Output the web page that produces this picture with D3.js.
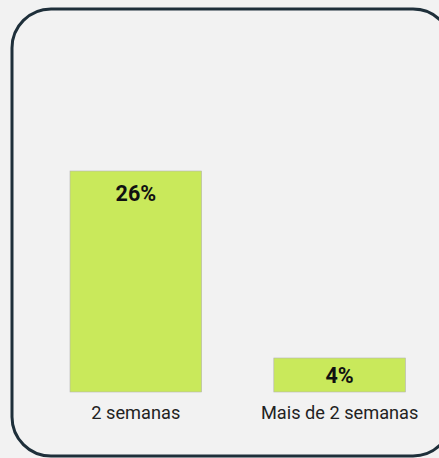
<!DOCTYPE html>
<html>
<head>
<meta charset="utf-8">
<script src="https://cdn.jsdelivr.net/npm/d3@7"></script>
<style>
  html, body { margin: 0; padding: 0; background: #f2f2f2; }
  svg { display: block; font-family: Roboto, sans-serif; }
</style>
</head>
<body>
<div id="chart"></div>
<script>
const categories = ['2 semanas', 'Mais de 2 semanas'];
const values = [26, 4];

const width = 439;
const height = 458;

const svg = d3.select('#chart')
    .append('svg')
    .attr('width', width)
    .attr('height', height);

// card frame
svg.append('rect')
    .attr('x', 12)
    .attr('y', 9)
    .attr('width', 440)
    .attr('height', 447)
    .attr('rx', 39)
    .attr('fill', '#f2f2f2')
    .attr('stroke', '#1e2f3a')
    .attr('stroke-width', 3);

const x = d3.scaleBand()
    .domain(categories)
    .range([70, 405.5])
    .paddingInner(0.354)
    .paddingOuter(0);

const y = d3.scaleLinear()
    .domain([0, 26])
    .range([392, 171]);

const bars = svg.append('g')
    .selectAll('g')
    .data(values)
    .enter().append('g');

bars.append('rect')
    .attr('x', (d, i) => x(categories[i]))
    .attr('y', d => y(d))
    .attr('width', x.bandwidth())
    .attr('height', d => y(0) - y(d))
    .attr('fill', '#c9e95b')
    .attr('stroke', '#b4b4b4')
    .attr('stroke-width', 0.6);

// value labels, near the top of tall bars, centered in short ones
bars.append('text')
    .attr('x', (d, i) => x(categories[i]) + x.bandwidth() / 2)
    .attr('y', d => Math.min(y(d) + 30, (y(d) + y(0)) / 2 + 8))
    .attr('text-anchor', 'middle')
    .attr('font-size', 21.5)
    .attr('font-weight', 'bold')
    .attr('fill', '#111')
    .text(d => d + '%');

svg.append('g')
    .selectAll('text')
    .data(categories)
    .enter().append('text')
    .attr('x', d => x(d) + x.bandwidth() / 2)
    .attr('y', 419)
    .attr('text-anchor', 'middle')
    .attr('font-size', 18.2)
    .attr('fill', '#222')
    .text(d => d);
</script>
</body>
</html>
